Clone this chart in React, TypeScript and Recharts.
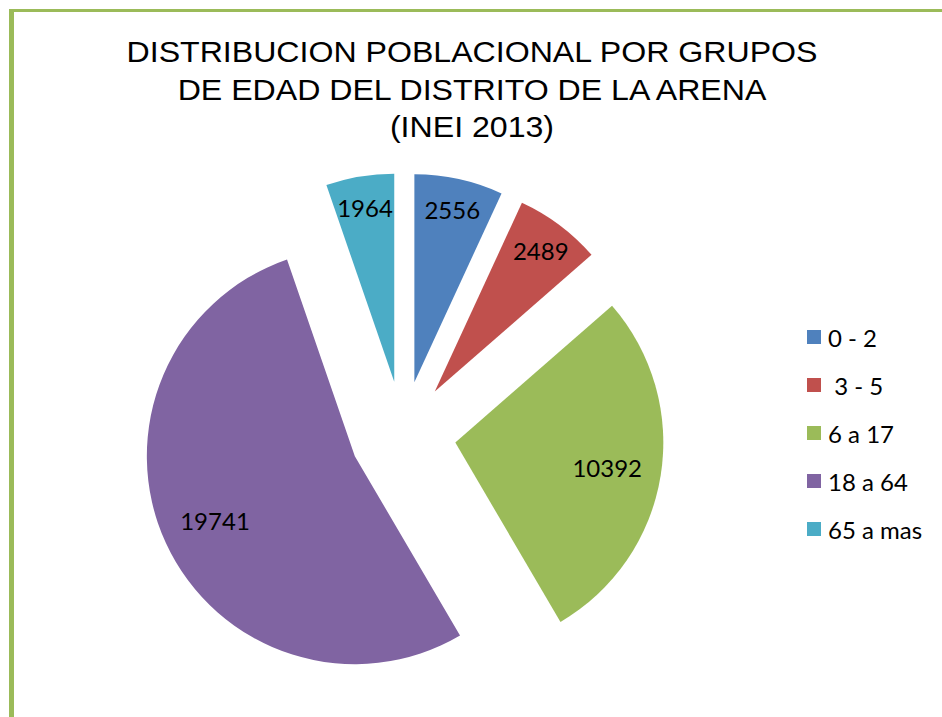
import { PieChart, Pie, Cell } from "recharts";

const groups = ["0 - 2", " 3 - 5", "6 a 17", "18 a 64", "65 a mas"];
const population = [2556, 2489, 10392, 19741, 1964];
const colors = ["#4F81BD", "#C0504D", "#9BBB59", "#8064A2", "#4BACC6"];

const titleLines = [
  "DISTRIBUCION POBLACIONAL POR GRUPOS",
  "DE EDAD DEL DISTRITO DE LA ARENA",
  "(INEI 2013)",
];

const data = groups.map((name, i) => ({ name, value: population[i] }));
const total = population.reduce((a, b) => a + b, 0);

// pie geometry (unexploded center, radius, explode distance)
const CX = 403;
const CY = 434;
const R = 208;
const EXPLODE = 53;
const RAD = Math.PI / 180;

// mid angle of every slice, clockwise from 12 o'clock
let acc = 0;
const mids = population.map((v) => {
  const m = 90 - ((acc + v / 2) / total) * 360;
  acc += v;
  return m;
});

const labelFor = (target: number) => (props: any) => {
  if (props.index !== target) return null;
  const ratio = props.percent < 0.1 ? 0.85 : 0.74;
  const r = props.outerRadius * ratio;
  const x = props.cx + r * Math.cos(-props.midAngle * RAD);
  const y = props.cy + r * Math.sin(-props.midAngle * RAD);
  return (
    <text
      x={x}
      y={y}
      textAnchor="middle"
      dominantBaseline="central"
      fill="#000"
      fontSize={24}
      fontFamily="Lato, 'Open Sans', sans-serif"
    >
      {props.value}
    </text>
  );
};

export default function App() {
  return (
    <div
      style={{
        position: "absolute",
        left: 0,
        top: 0,
        width: 942,
        height: 717,
        background: "#fff",
        overflow: "hidden",
      }}
    >
      {/* green frame */}
      <div style={{ position: "absolute", left: 9, top: 9, width: 933, height: 3, background: "#9BBB59" }} />
      <div style={{ position: "absolute", left: 9, top: 9, width: 5, height: 708, background: "#9BBB59" }} />

      <PieChart width={942} height={717} margin={{ top: 0, right: 0, bottom: 0, left: 0 }}>
        {data.map((_, i) => {
          const a = mids[i] * RAD;
          return (
            <Pie
              key={i}
              data={data}
              dataKey="value"
              nameKey="name"
              cx={CX + EXPLODE * Math.cos(a)}
              cy={CY - EXPLODE * Math.sin(a)}
              outerRadius={R}
              startAngle={90}
              endAngle={-270}
              stroke="none"
              labelLine={false}
              label={labelFor(i)}
              isAnimationActive={false}
            >
              {data.map((d, j) => (
                <Cell key={d.name} fill={j === i ? colors[j] : "transparent"} stroke="none" />
              ))}
            </Pie>
          );
        })}
      </PieChart>

      <div
        style={{
          position: "absolute",
          left: 0,
          top: 33,
          width: 942,
          textAlign: "center",
          fontFamily: "'Liberation Sans', Arial, sans-serif",
          fontSize: 30,
          lineHeight: "37.5px",
          color: "#000",
          transform: "translateX(1px) scaleX(1.07)",
          transformOrigin: "471px 0",
        }}
      >
        {titleLines.map((t) => (
          <div key={t}>{t}</div>
        ))}
      </div>

      {groups.map((g, i) => (
        <div
          key={g}
          style={{
            position: "absolute",
            left: 807,
            top: 337 + i * 48 - 15,
            height: 30,
            display: "flex",
            alignItems: "center",
            fontFamily: "Lato, 'Open Sans', sans-serif",
            fontSize: 24,
            color: "#000",
            whiteSpace: "pre",
          }}
        >
          <span style={{ width: 14, height: 14, background: colors[i], marginRight: 7, display: "inline-block" }} />
          <span>{g}</span>
        </div>
      ))}
    </div>
  );
}
